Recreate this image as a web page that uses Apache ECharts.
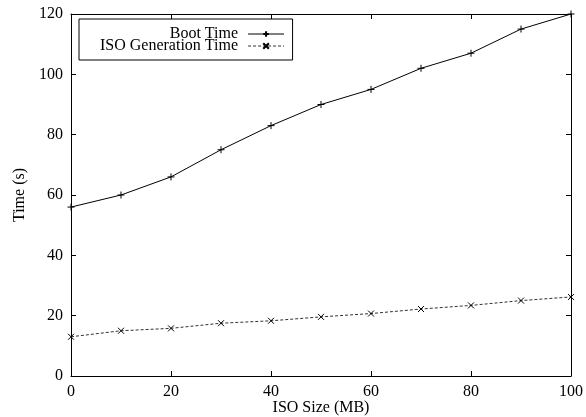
<!DOCTYPE html>
<html>
<head>
<meta charset="utf-8">
<script src="https://cdn.jsdelivr.net/npm/echarts@6/dist/echarts.min.js"></script>
<style>
  html, body { margin: 0; padding: 0; background: #fff; }
  #chart { width: 586px; height: 417px; }
</style>
</head>
<body>
<div id="chart"></div>
<script>
// ISO 大小 (MB)
const isoSize = [0, 10, 20, 30, 40, 50, 60, 70, 80, 90, 100]
// 启动时间 (s)
const bootTime = [56, 60, 66, 75, 83, 90, 95, 102, 107, 115, 120]
// ISO 生成时间 (s)
const isoGenTime = [13, 15, 15.8, 17.5, 18.3, 19.6, 20.7, 22.2, 23.4, 25, 26.2]

const font = 'Liberation Serif'
const plus = 'path://M0,5 L10,5 M5,0 L5,10'
const cross = 'path://M0,0 L10,10 M0,10 L10,0'

function pairs(xs, ys) {
  return xs.map((x, i) => [x, ys[i]])
}

const chart = echarts.init(document.getElementById('chart'))

// 四边都有刻度，只有左下两边有标签
const tickStyle = {
  axisLine: { show: true, onZero: false, lineStyle: { color: '#000', width: 1 } },
  axisTick: { show: true, inside: true, length: 5, lineStyle: { color: '#000' } },
  splitLine: { show: false },
}

const option = {
  animation: false,
  backgroundColor: '#fff',
  textStyle: { fontFamily: font },
  grid: { left: 71, right: 15, top: 14, bottom: 41, outerBoundsMode: 'none' },
  legend: {
    orient: 'vertical',
    align: 'right',
    left: 79,
    top: 19,
    padding: [7, 8, 6, 21],
    itemGap: -4,
    itemWidth: 36,
    itemHeight: 7,
    borderColor: '#000',
    borderWidth: 1,
    lineStyle: { width: 1 },
    formatter: '{t|{name}}',
    textStyle: {
      fontFamily: font,
      fontSize: 16,
      color: '#000',
      rich: { t: { width: 143, padding: [0, 5, 0, 0], align: 'right', fontFamily: font, fontSize: 16 } },
    },
    data: ['Boot Time', 'ISO Generation Time'],
  },
  xAxis: [
    {
      type: 'value',
      min: 0,
      max: 100,
      interval: 20,
      name: 'ISO Size (MB)',
      nameLocation: 'middle',
      nameGap: 24,
      nameMoveOverlap: false,
      nameTextStyle: { fontFamily: font, fontSize: 16, color: '#000' },
      axisLabel: { margin: 8, fontFamily: font, fontSize: 16, color: '#000' },
      ...tickStyle,
    },
    {
      type: 'value',
      position: 'top',
      min: 0,
      max: 100,
      interval: 20,
      axisLabel: { show: false },
      ...tickStyle,
    },
  ],
  yAxis: [
    {
      type: 'value',
      min: 0,
      max: 120,
      interval: 20,
      name: 'Time (s)',
      nameLocation: 'middle',
      nameGap: 43,
      nameMoveOverlap: false,
      nameTextStyle: { fontFamily: font, fontSize: 16, color: '#000' },
      axisLabel: { margin: 8, fontFamily: font, fontSize: 16, color: '#000' },
      ...tickStyle,
    },
    {
      type: 'value',
      position: 'right',
      min: 0,
      max: 120,
      interval: 20,
      axisLabel: { show: false },
      ...tickStyle,
    },
  ],
  series: [
    {
      name: 'Boot Time',
      type: 'line',
      data: pairs(isoSize, bootTime),
      symbol: plus,
      symbolSize: 7,
      itemStyle: { color: 'rgba(0,0,0,0)', borderColor: '#000', borderWidth: 1 },
      lineStyle: { color: '#000', width: 1 },
    },
    {
      name: 'ISO Generation Time',
      type: 'line',
      data: pairs(isoSize, isoGenTime),
      symbol: cross,
      symbolSize: 6,
      itemStyle: { color: 'rgba(0,0,0,0)', borderColor: '#000', borderWidth: 1 },
      lineStyle: { color: '#333', width: 1, type: [3, 2] },
    },
  ],
}
chart.setOption(option)
</script>
</body>
</html>
